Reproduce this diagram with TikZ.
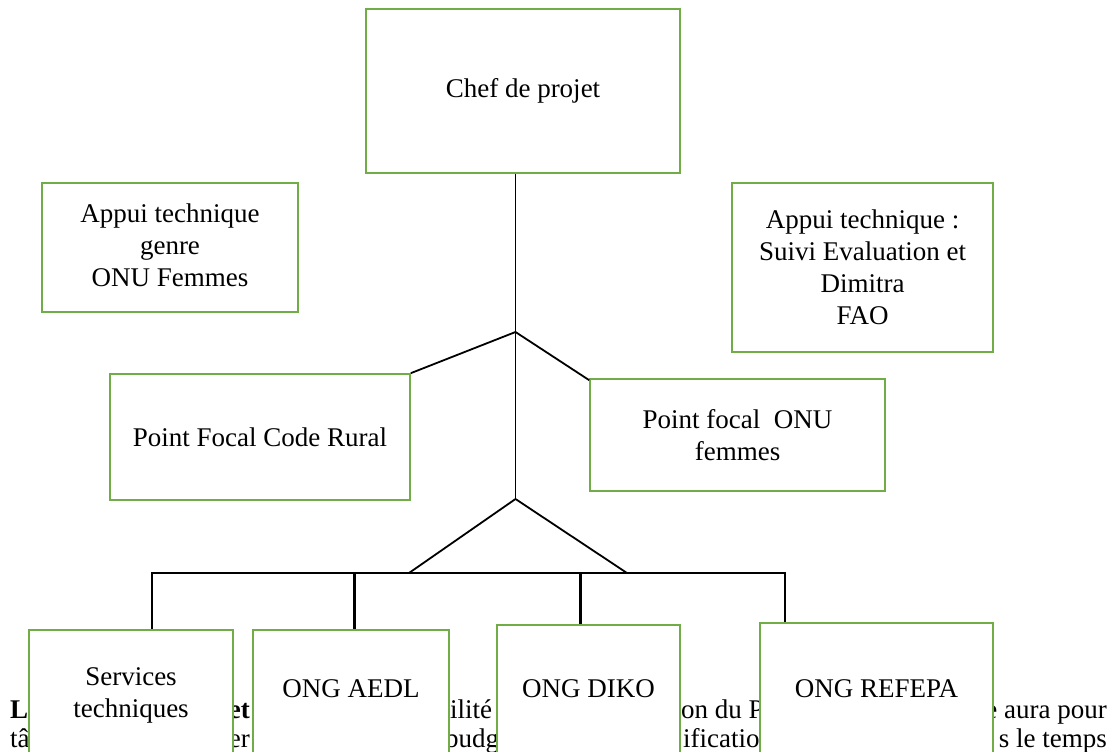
\documentclass[tikz,border=0pt]{standalone}
\usepackage{fontspec}
\setmainfont{Liberation Serif}
\definecolor{boxgreen}{HTML}{70AD47}
\begin{document}
\begin{tikzpicture}[x=1pt,y=-1pt,
  txt/.style={font=\fontsize{27}{32}\selectfont, inner sep=0pt},
  box/.style={txt, draw=boxgreen, line width=1.7pt, fill=white, align=center},
  thinconn/.style={line width=1.8pt, draw=black},
  thickconn/.style={line width=2.6pt, draw=black},
  frag/.style={txt, anchor=base west},
  fragr/.style={txt, anchor=base east}
]
\useasboundingbox (0,0) rectangle (1114,752);
\clip (0,0) rectangle (1114,752);

% paragraph fragments behind the boxes
\node[frag] (p1) at (10,718) {\textbf{L}};
\node[fragr] (p2) at (250,718) {\textbf{et}};
\node[frag] (p3) at (450,718) {ilité};
\node[frag] (p4) at (681,718) {on du Pr};
\node[fragr] (p5) at (1107,718) {e aura pour};
\node[frag] (p6) at (10,747) {tâ};
\node[fragr] (p7) at (250,747) {er};
\node[frag] (p8) at (445,747) {budg};
\node[frag] (p9) at (683,747) {ificatio};
\node[fragr] (p10) at (1107,747) {s le temps};

% top boxes
\node[box, minimum width=314, minimum height=164] (chef) at (523,91) {\raisebox{-3pt}{Chef de projet}};
\node[box, minimum width=256, minimum height=129] (genre) at (170,247.5) {\raisebox{4pt}{Appui technique}\\\raisebox{4pt}{genre}\\\raisebox{4pt}{ONU Femmes}};
\node[box, minimum width=261, minimum height=169] (fao) at (862.5,267.5) {Appui technique :\\ Suivi Evaluation et\\Dimitra\\FAO};
\node[box, minimum width=300, minimum height=126] (rural) at (260,437) {Point Focal Code Rural};
\node[box, minimum width=295, minimum height=112] (onu) at (737.5,435) {Point focal\ \ ONU\\femmes};

% bottom boxes (run past the page bottom)
\node[box, anchor=north, minimum width=204, text height=88pt, text depth=140pt] (serv) at (131,629) {Services\\techniques};
\node[box, anchor=north, minimum width=196, text height=68pt, text depth=120pt] (aedl) at (351,629) {ONG AEDL};
\node[box, anchor=north, minimum width=183, text height=73pt, text depth=120pt] (diko) at (588.5,624) {ONG DIKO};
\node[box, anchor=north, minimum width=233, text height=75pt, text depth=120pt] (refepa) at (876.5,622) {ONG REFEPA};

% connectors
\coordinate (j1) at (515.5,332);
\coordinate (j2) at (515.5,499);
\coordinate (bl) at (409,573);
\coordinate (br) at (627,573);
\coordinate (h1) at (152,573);
\coordinate (h2) at (354.5,573);
\coordinate (h3) at (580.5,573);
\coordinate (h4) at (785,573);

\draw[thinconn] (j1 |- chef.south) -- (j2);
\draw[thinconn] (j1) -- (rural.north east);
\draw[thinconn] (j1) -- ([yshift=-2pt]onu.north west);
\draw[thinconn] (j2) -- (bl);
\draw[thinconn] (j2) -- (br);
\draw[thickconn, line cap=rect] (h1) -- (h4);
\draw[thickconn] (h1) -- (h1 |- serv.north);
\draw[thickconn] (h2) -- (h2 |- aedl.north);
\draw[thickconn] (h3) -- (h3 |- diko.north);
\draw[thickconn] (h4) -- (h4 |- refepa.north);
\end{tikzpicture}
\end{document}
